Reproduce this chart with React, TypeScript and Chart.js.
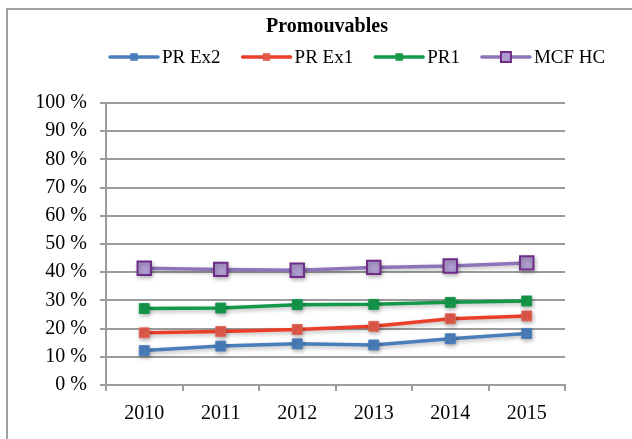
import React, { useEffect, useRef } from "react";
import { Chart, registerables } from "chart.js";

Chart.register(...registerables);

const categories = ["2010", "2011", "2012", "2013", "2014", "2015"];
const prEx2 = [12.2, 13.8, 14.6, 14.2, 16.4, 18.3];
const prEx1 = [18.5, 19.0, 19.7, 20.8, 23.5, 24.5];
const pr1 = [27.1, 27.3, 28.5, 28.6, 29.3, 29.8];
const mcfHc = [41.4, 41.0, 40.7, 41.7, 42.2, 43.3];
const yTicks = [0, 10, 20, 30, 40, 50, 60, 70, 80, 90, 100];
const titleText = "Promouvables";

const FONT = "'Liberation Serif', 'Times New Roman', serif";

const seriesStyles = [
  { label: "PR Ex2", data: prEx2, line: "#4A7EBB", fill: "#4A7EBB", border: "#4A7EBB", r: 7, bw: 1 },
  { label: "PR Ex1", data: prEx1, line: "#EA3E2A", fill: "#E05848", border: "#E26A5C", r: 7, bw: 1 },
  { label: "PR1", data: pr1, line: "#14984A", fill: "#14984A", border: "#14984A", r: 7, bw: 1 },
  { label: "MCF HC", data: mcfHc, line: "#8E73B8", fill: "#AE9CD0", border: "#6E2C88", r: 9.5, bw: 2 },
];

const titleLegendPlugin = {
  id: "titleLegend",
  afterDraw(chart: any) {
    const ctx = chart.ctx;
    ctx.save();
    ctx.shadowColor = "transparent";
    ctx.fillStyle = "#000";
    ctx.font = `bold 20px ${FONT}`;
    ctx.textAlign = "center";
    ctx.textBaseline = "middle";
    ctx.fillText(titleText, 327, 27);

    ctx.font = `19px ${FONT}`;
    ctx.textAlign = "left";
    let x = 110;
    const y = 57;
    chart.data.datasets.forEach((ds: any, i: number) => {
      const st = seriesStyles[i];
      ctx.strokeStyle = st.line;
      ctx.lineWidth = 3.5;
      ctx.lineCap = "round";
      ctx.beginPath();
      ctx.moveTo(x, y);
      ctx.lineTo(x + 48, y);
      ctx.stroke();
      const s = i === 3 ? 10 : 7.5;
      ctx.fillStyle = st.fill;
      ctx.fillRect(x + 24 - s / 2, y - s / 2, s, s);
      if (i === 3) {
        ctx.strokeStyle = st.border;
        ctx.lineWidth = 2;
        ctx.strokeRect(x + 24 - s / 2, y - s / 2, s, s);
      }
      ctx.fillStyle = "#000";
      ctx.fillText(ds.label, x + 52, y + 1);
      const w = ctx.measureText(ds.label).width;
      x += 52 + w + 22;
    });
    ctx.restore();
  },
};

const shadowPlugin = {
  id: "shadow",
  beforeDatasetsDraw(chart: any) {
    const ctx = chart.ctx;
    ctx.save();
    ctx.shadowColor = "rgba(0,0,0,0.28)";
    ctx.shadowBlur = 4;
    ctx.shadowOffsetX = 1;
    ctx.shadowOffsetY = 2;
  },
  afterDatasetsDraw(chart: any) {
    chart.ctx.restore();
  },
};

export default function App() {
  const ref = useRef<HTMLCanvasElement>(null);
  useEffect(() => {
    if (!ref.current) return;
    const chart = new Chart(ref.current, {
      type: "line",
      data: {
        labels: categories,
        datasets: seriesStyles.map((s) => ({
          label: s.label,
          data: s.data,
          borderColor: s.line,
          borderWidth: 3.5,
          pointStyle: "rect",
          pointRadius: s.r,
          pointHoverRadius: s.r,
          pointBackgroundColor: s.fill,
          pointBorderColor: s.border,
          pointBorderWidth: s.bw,
          tension: 0,
          fill: false,
        })),
      },
      options: {
        responsive: false,
        animation: false,
        layout: { padding: { top: 103, right: 67, bottom: 0, left: 0 } },
        plugins: {
          legend: { display: false },
          title: { display: false },
          tooltip: { enabled: false },
        },
        scales: {
          x: {
            type: "category",
            offset: true,
            afterFit(scale: any) {
              scale.height = 54;
            },
            grid: {
              display: true,
              offset: true,
              drawOnChartArea: false,
              drawTicks: true,
              tickLength: 6,
              color: "#9c9c9c",
              lineWidth: 2,
            },
            border: { display: true, color: "#9c9c9c", width: 2 },
            ticks: {
              color: "#000",
              font: { family: FONT, size: 20 },
              padding: 11,
            },
          },
          y: {
            min: 0,
            max: 100,
            afterFit(scale: any) {
              scale.width = 106;
            },
            afterBuildTicks(scale: any) {
              scale.ticks = yTicks.map((v) => ({ value: v }));
            },
            grid: {
              color: "#9c9c9c",
              lineWidth: 2,
              tickLength: 6,
            },
            border: { display: true, color: "#9c9c9c", width: 2 },
            ticks: {
              color: "#000",
              font: { family: FONT, size: 20 },
              padding: 13,
              callback: (v: any) => `${v} %`,
            },
          },
        },
      },
      plugins: [shadowPlugin, titleLegendPlugin],
    });
    return () => chart.destroy();
  }, []);

  return (
    <div
      style={{
        position: "fixed",
        left: 0,
        top: 0,
        width: 632,
        height: 439,
        overflow: "hidden",
        background: "#fff",
      }}
    >
      <canvas ref={ref} width={632} height={439} style={{ position: "absolute", left: 0, top: 0 }} />
      <div
        style={{
          position: "absolute",
          left: 6,
          top: 8,
          width: 700,
          height: 500,
          border: "2px solid #a0a0a0",
          pointerEvents: "none",
        }}
      />
    </div>
  );
}
